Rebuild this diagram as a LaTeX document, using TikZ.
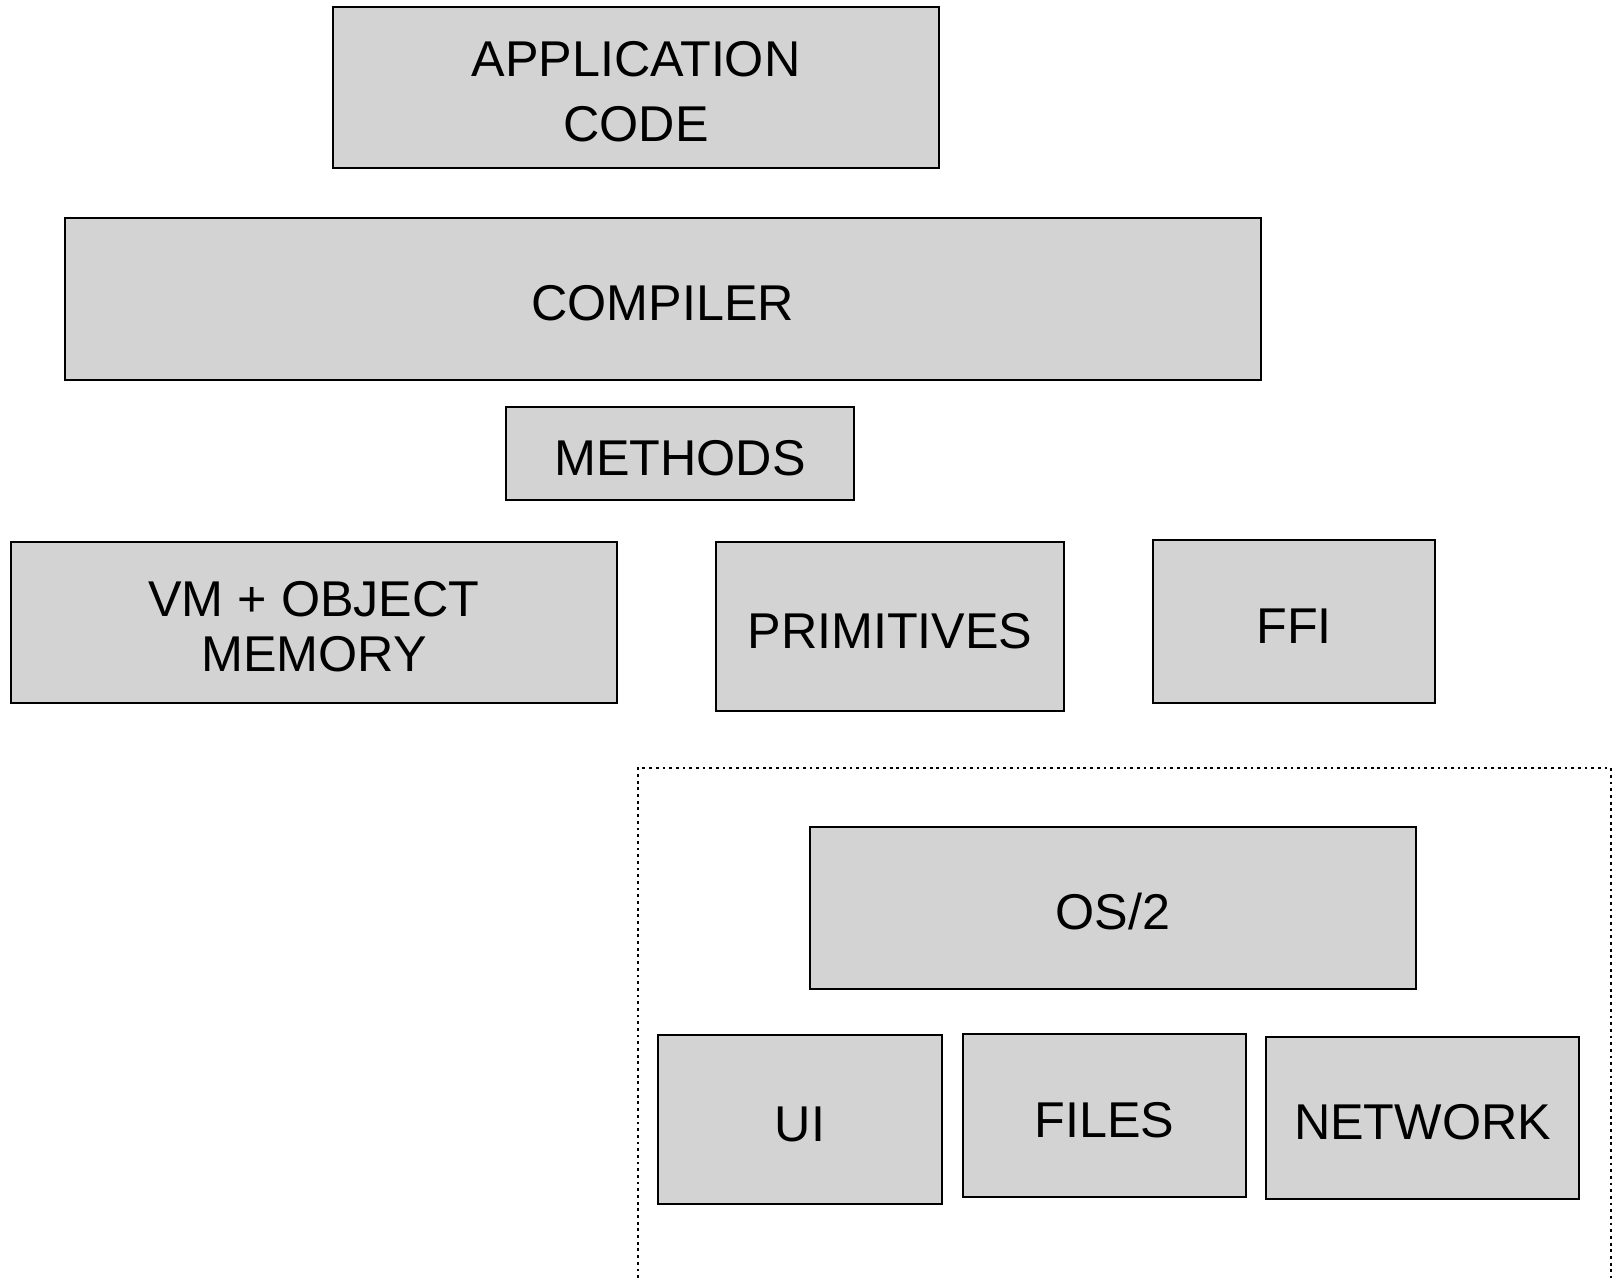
\documentclass[tikz,border=0pt]{standalone}
\usepackage{fontspec}
\setmainfont{Liberation Sans}
\usepackage{xcolor}
\definecolor{boxgray}{RGB}{211,211,211}
\tikzset{
	layer/.style={
			draw=black, fill=boxgray, line width=0.6pt, inner sep=0pt,
			align=center, font=\fontsize{14.3}{18.4}\selectfont
		},
	oneline/.style={text height=12.3pt, text depth=0pt},
	frame/.style={line width=0.7pt, dash pattern=on 0.8pt off 1.1pt}
}
% strut that lowers the first line a little
\newcommand{\toprule}{\rule{0pt}{12.3pt}}

\begin{document}
\begin{tikzpicture}[x=0.01cm,y=-0.01cm]
	\useasboundingbox (0,0) rectangle (1620,1278);

	% upper stack
	\node[layer, minimum width=6.06cm, minimum height=1.61cm] (app) at (636,87.5) {\toprule APPLICATION\\CODE};
	\node[layer, oneline, minimum width=11.955cm, minimum height=1.62cm] (compiler) at (662.75,299) {COMPILER};
	\node[layer, oneline, minimum width=3.48cm, minimum height=0.93cm] (methods) at (680,453.5) {METHODS};

	% runtime row
	\node[layer, minimum width=6.06cm, minimum height=1.61cm, font=\fontsize{14.3}{15.8}\selectfont] (vm) at (314,622.5) {\toprule VM + OBJECT\\MEMORY};
	\node[layer, oneline, minimum width=3.48cm, minimum height=1.69cm] (prims) at (890,626.5) {PRIMITIVES};
	\node[layer, oneline, minimum width=2.82cm, minimum height=1.63cm] (ffi) at (1294,621.5) {FFI};

	% host system (dotted frame, open at the bottom)
	\coordinate (frameBL) at (638,1278);
	\coordinate (frameTR) at (1611,768);
	\coordinate (frameBR) at (1611,1278);
	\draw[frame] (frameBL) |- (frameTR) -- (frameBR);

	\node[layer, oneline, minimum width=6.06cm, minimum height=1.62cm] (os) at (1113,908) {OS/2};
	\node[layer, oneline, minimum width=2.84cm, minimum height=1.69cm] (ui) at (800,1119.5) {UI};
	\node[layer, oneline, minimum width=2.83cm, minimum height=1.63cm] (files) at (1104.5,1115.5) {FILES};
	\node[layer, oneline, minimum width=3.13cm, minimum height=1.62cm] (network) at (1422.5,1118) {NETWORK};
\end{tikzpicture}
\end{document}
